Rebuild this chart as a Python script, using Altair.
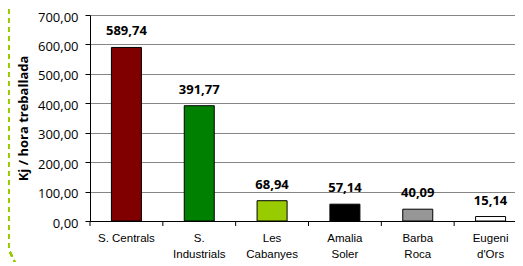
import json
import altair as alt
import pandas as pd

categories = ["S. Centrals", "S. Industrials", "Les Cabanyes", "Amalia Soler", "Barba Roca", "Eugeni d'Ors"]
label_lines = [["S. Centrals"], ["S.", "Industrials"], ["Les", "Cabanyes"], ["Amalia", "Soler"], ["Barba", "Roca"], ["Eugeni", "d'Ors"]]
values = [589.74, 391.77, 68.94, 57.14, 40.09, 15.14]
colors = ["#800000", "#008000", "#99CC00", "#000000", "#969696", "#FFFFFF"]
y_ticks = [0, 100, 200, 300, 400, 500, 600, 700]

df = pd.DataFrame({"centre": categories, "kj": values})

label_expr = "{}[indexof({}, datum.value)]".format(json.dumps(label_lines), json.dumps(categories))

x_scale = alt.Scale(domain=categories, paddingInner=0, paddingOuter=0)
y_scale = alt.Scale(domain=[0, 700], nice=False)

x_axis = alt.Axis(
    title=None,
    labelAngle=0,
    labelExpr=label_expr,
    labelFont="Liberation Sans",
    labelFontSize=11.5,
    labelLineHeight=16.5,
    labelColor="#000000",
    labelPadding=11,
    labelBaseline="top",
    ticks=False,
    domain=True,
    domainColor="#000000",
    domainWidth=1,
)

y_axis = alt.Axis(
    title="Kj / hora treballada",
    values=y_ticks,
    labelOverlap=False,
    labelExpr="replace(format(datum.value, '.2f'), '.', ',')",
    labelFont="Open Sans",
    labelFontSize=13,
    labelColor="#000000",
    labelPadding=7,
    labelOffset=2,
    tickSize=5,
    tickColor="#000000",
    domainColor="#000000",
    grid=True,
    gridColor="#868686",
    gridWidth=1,
    titleFont="Open Sans",
    titleFontSize=13,
    titleFontWeight="bold",
    titleColor="#000000",
    titleAngle=-90,
    titleX=-63,
    titleY=103,
    titleAlign="center",
    titleBaseline="alphabetic",
)

x_enc = alt.X("centre:N", sort=categories, scale=x_scale, axis=x_axis)
y_enc = alt.Y("kj:Q", scale=y_scale, axis=y_axis)

bars = alt.Chart(df).mark_bar(size=30, stroke="#000000", strokeWidth=1).encode(
    x=x_enc,
    y=y_enc,
    color=alt.Color("centre:N", scale=alt.Scale(domain=categories, range=colors), legend=None),
)

text = alt.Chart(df).transform_calculate(
    lab="replace(format(datum.kj, '.2f'), '.', ',')"
).mark_text(
    font="Open Sans", fontSize=13, fontWeight="bold", color="#000000",
    baseline="alphabetic", dy=-12,
).encode(
    x=x_enc,
    y=y_enc,
    text="lab:N",
)

xticks = alt.Chart(df).mark_rule(color="#000000", strokeWidth=1).encode(
    x=alt.X("centre:N", sort=categories, bandPosition=0, scale=x_scale, axis=x_axis),
    y=alt.value(206),
    y2=alt.value(211),
)

frame1 = alt.Chart(df).mark_rule(color="#99CC00", strokeWidth=2, strokeDash=[5, 4]).encode(
    x=alt.value(-81), y=alt.value(-15), y2=alt.value(233)
)
frame2 = alt.Chart(df).mark_rule(color="#99CC00", strokeWidth=2, strokeDash=[5, 4]).encode(
    x=alt.value(-80), x2=alt.value(-73), y=alt.value(237), y2=alt.value(252)
)

chart = alt.layer(bars, text, xticks, frame1, frame2).properties(
    width=437,
    height=206,
    autosize=alt.AutoSizeParams(type="none"),
    padding={"left": 82, "top": 7, "right": -12, "bottom": 41},
    background="#FFFFFF",
).configure_view(stroke=None)

chart.save("out.html", embed_options={"renderer": "svg", "actions": False})
